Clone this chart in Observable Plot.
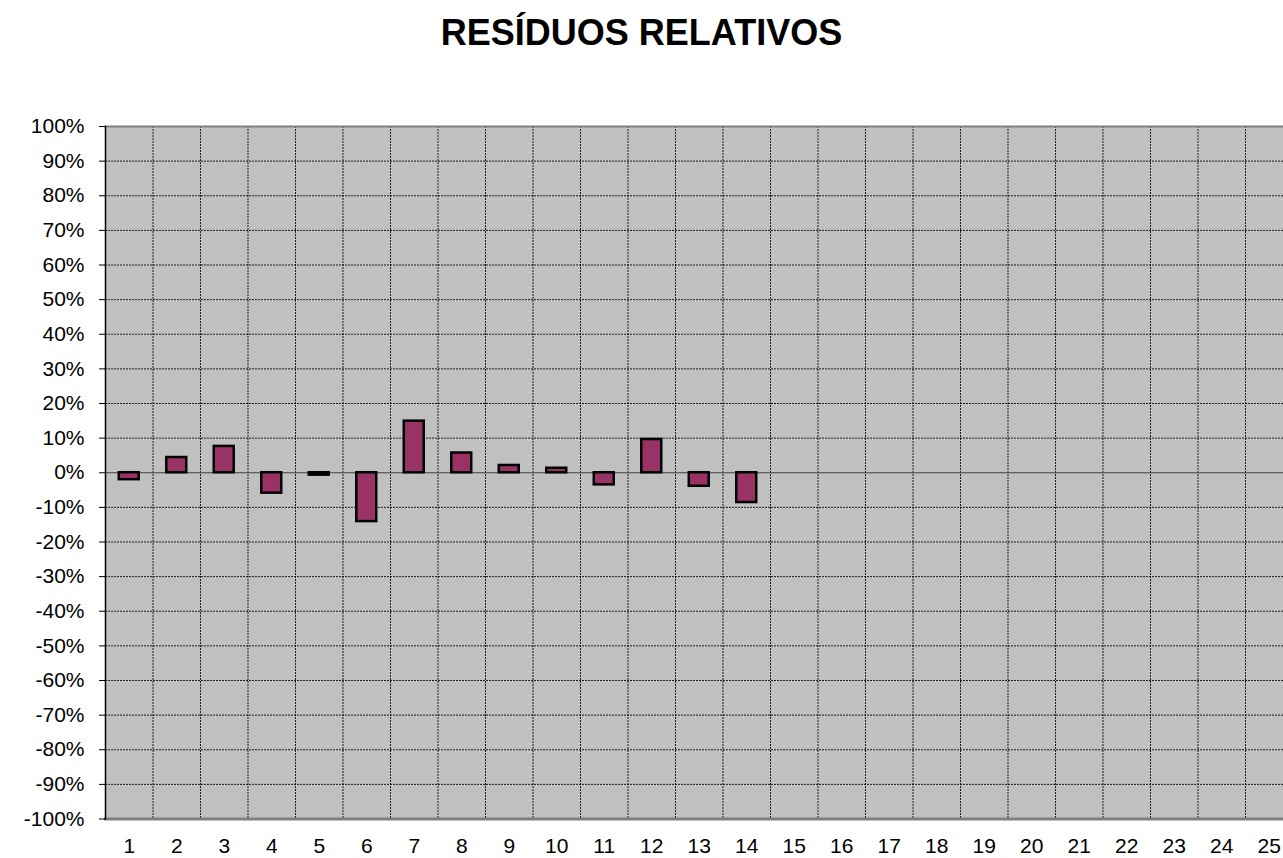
<!DOCTYPE html>
<html><head><meta charset="utf-8">
<script src="https://cdn.jsdelivr.net/npm/d3@7"></script>
<script src="https://cdn.jsdelivr.net/npm/@observablehq/plot@0.6"></script>
<style>
html,body{margin:0;padding:0;background:#fff;overflow:hidden}
#wrap{width:1283px;height:858px;overflow:hidden;position:relative;font-family:"Liberation Sans",Arial,sans-serif}
#title{height:116px;box-sizing:border-box;padding-top:15px;text-align:center;font-weight:bold;font-size:36px;line-height:36px;width:1283px;color:#000}
#chart svg{display:block;max-width:none !important}
</style></head><body>
<div id="wrap"><div id="title">RESÍDUOS RELATIVOS</div><div id="chart"></div></div>
<script>
const categories = ["1","2","3","4","5","6","7","8","9","10","11","12","13","14","15","16","17","18","19","20","21","22","23","24","25"];
const values = [-2.0, 4.4, 7.6, -5.9, -0.7, -14.1, 14.9, 5.7, 2.1, 1.3, -3.5, 9.6, -3.9, -8.6];
const yTicks = [-100,-90,-80,-70,-60,-50,-40,-30,-20,-10,0,10,20,30,40,50,60,70,80,90,100];

const data = values.map((v, i) => ({cat: categories[i], value: v}));
const innerCats = categories.slice(0, categories.length - 1);
const gridY = yTicks.filter(t => t !== 0 && Math.abs(t) !== 100);

const chart = Plot.plot({
  width: 1293,
  height: 742,
  marginTop: 10,
  marginBottom: 39.5,
  marginLeft: 105,
  marginRight: 0.5,
  style: {fontFamily: '"Liberation Sans", Arial, sans-serif', fontSize: "21px", color: "#000", background: "transparent", overflow: "visible", maxWidth: "none"},
  x: {type: "band", domain: categories, paddingInner: 0.58, paddingOuter: 0.29, align: 0.5, round: false, label: null},
  y: {domain: [-100, 100], label: null},
  marks: [
    Plot.frame({fill: "#c0c0c0", stroke: null}),
    Plot.ruleY(gridY, {stroke: "#000", strokeDasharray: "2,1", strokeWidth: 1, strokeOpacity: 0.85}),
    Plot.ruleX(innerCats, {dx: 23.75, stroke: "#000", strokeDasharray: "2,1", strokeWidth: 1, strokeOpacity: 0.85}),
    Plot.ruleY([0], {stroke: "#404040", strokeWidth: 1}),
    Plot.barY(data, {x: "cat", y: "value", fill: "#993366", stroke: "#000", strokeWidth: 2.5}),
    Plot.frame({anchor: "top", stroke: "#808080", strokeWidth: 2}),
    Plot.frame({anchor: "bottom", stroke: "#808080", strokeWidth: 3}),
    Plot.frame({anchor: "left", stroke: "#000", strokeWidth: 1.5}),
    Plot.axisY({ticks: yTicks, tickFormat: d => d + "%", tickSize: 6, tickPadding: 15, fontSize: 21, stroke: "#000", label: null}),
    Plot.axisX({tickSize: 0, tickPadding: 19, fontSize: 21, label: null})
  ]
});
document.getElementById("chart").appendChild(chart);
</script>
</body></html>
